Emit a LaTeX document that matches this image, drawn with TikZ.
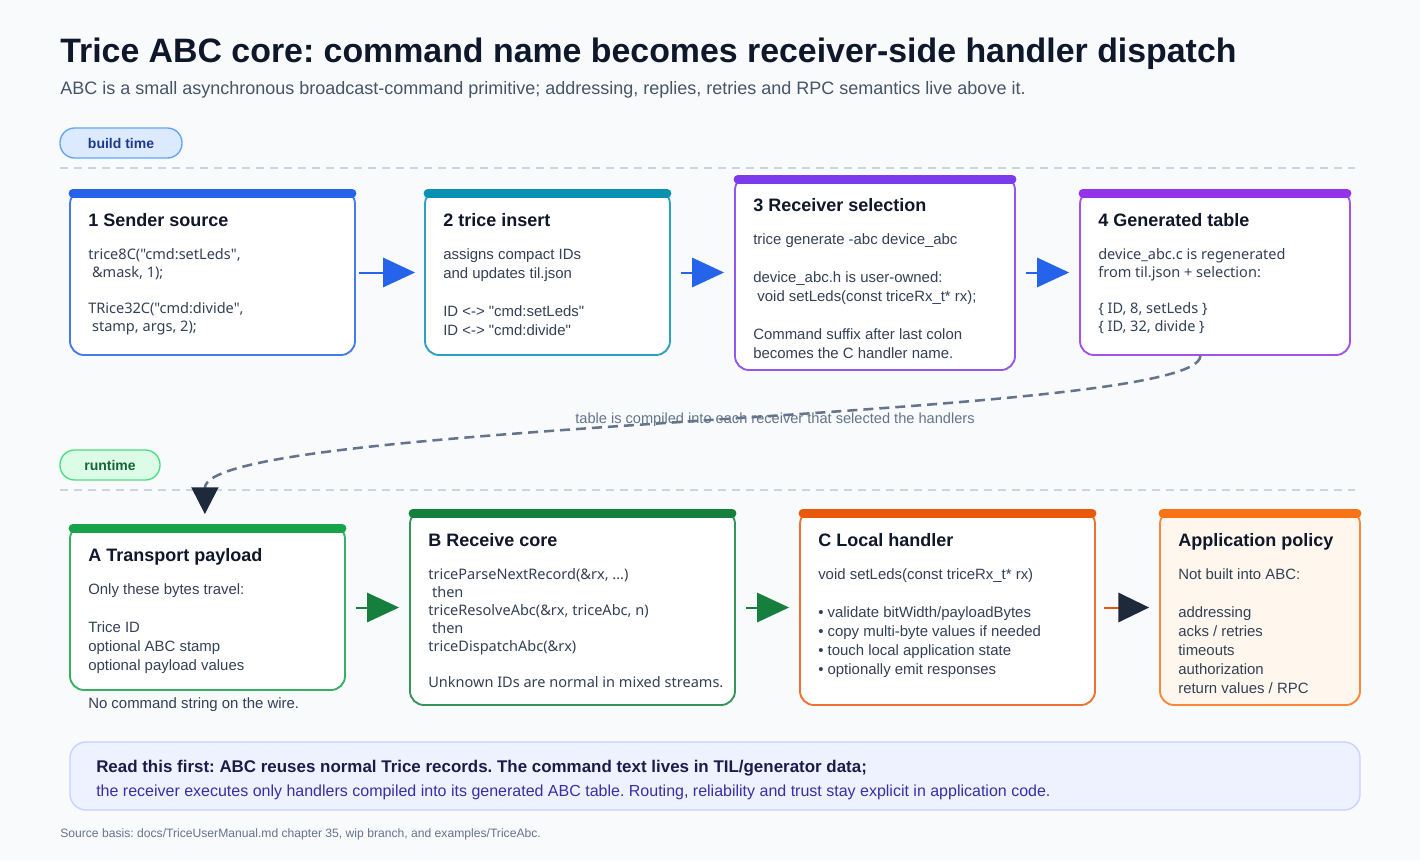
\documentclass[tikz,border=0pt]{standalone}
\usepackage{fontspec}
\setmainfont{Liberation Sans}[Ligatures=TeXOff]
\newfontfamily\codefont{Noto Sans}[Ligatures=TeXOff]
\usetikzlibrary{arrows.meta, positioning, fit}

\definecolor{cBg}{HTML}{F8FAFC}
\definecolor{cInk}{HTML}{0F172A}
\definecolor{cSlate}{HTML}{334155}
\definecolor{cSub}{HTML}{475569}
\definecolor{cGrey}{HTML}{64748B}
\definecolor{cDark}{HTML}{1E293B}
\definecolor{cSep}{HTML}{CBD5E1}
\definecolor{cBlue}{HTML}{2563EB}
\definecolor{cTeal}{HTML}{0891B2}
\definecolor{cViolet}{HTML}{7C3AED}
\definecolor{cPurple}{HTML}{9333EA}
\definecolor{cGreen}{HTML}{16A34A}
\definecolor{cForest}{HTML}{15803D}
\definecolor{cRust}{HTML}{EA580C}
\definecolor{cOrange}{HTML}{F97316}
\definecolor{cCream}{HTML}{FFF7ED}
\definecolor{cPillBlue}{HTML}{DBEAFE}
\definecolor{cPillBlueLine}{HTML}{60A5FA}
\definecolor{cPillBlueText}{HTML}{1E3A8A}
\definecolor{cPillGreen}{HTML}{DCFCE7}
\definecolor{cPillGreenLine}{HTML}{4ADE80}
\definecolor{cPillGreenText}{HTML}{166534}
\definecolor{cNote}{HTML}{EEF2FF}
\definecolor{cNoteLine}{HTML}{C7D2FE}
\definecolor{cNoteHead}{HTML}{1E1B4B}
\definecolor{cNoteText}{HTML}{3730A3}

\begin{document}
\frenchspacing
\begin{tikzpicture}[x=0.75pt, y=-0.75pt,
    every node/.style={inner sep=0pt},
    card/.style={draw=#1!85!white, line width=1.4pt, rounded corners=10.5pt, fill=white},
    topbar/.style={draw=#1, line width=6.75pt, line cap=round},
    ttl/.style={anchor=base west, text=cInk, font=\bfseries\fontsize{13.5}{16}\selectfont},
    txt/.style={anchor=north west, align=left, text=cSlate, font=\fontsize{11.2}{14.25}\selectfont},
    codetxt/.style={txt, font=\codefont\fontsize{10.9}{13.5}\selectfont},
    flow/.style={draw=#1, line width=1.5pt, -{Triangle[length=24pt, width=22pt]}},
    pill/.style={rounded corners=11pt, line width=1pt, minimum height=22.5pt,
        font=\bfseries\fontsize{10.5}{12}\selectfont},
    sep/.style={draw=cSep, line width=1.2pt, dash pattern=on 6pt off 4.5pt}]

    \fill[cBg] (0,0) rectangle (1420,860);

    % heading
    \node[anchor=base west, text=cInk, font=\bfseries\fontsize{25.4}{30}\selectfont] (title) at (60,62)
        {Trice ABC core: command name becomes receiver-side handler dispatch};
    \node[anchor=base west, text=cSub, font=\fontsize{13.5}{16}\selectfont] (subtitle) at (60,94)
        {ABC is a small asynchronous broadcast-command primitive; addressing, replies, retries and RPC semantics live above it.};

    % build time row
    \node[pill, fill=cPillBlue, draw=cPillBlueLine, text=cPillBlueText, minimum width=91.5pt] (build) at (121,143) {build time};
    \draw[sep] (60,168) -- (1355,168);

    \node[card=cBlue, fit={(70,190) (355,355)}] (b1) {};
    \node[card=cTeal, fit={(425,190) (670,355)}] (b2) {};
    \node[card=cViolet, fit={(735,176) (1015,370)}] (b3) {};
    \node[card=cPurple, fit={(1080,190) (1350,355)}] (b4) {};

    \node[ttl] (t1) at (88,226) {1 Sender source};
    \node[codetxt] (d1) at (88,248)
        {trice8C("cmd:setLeds",\\\ \&mask, 1);\\[13.5pt]TRice32C("cmd:divide",\\\ stamp, args, 2);};
    \node[ttl] (t2) at (443,226) {2 trice insert};
    \node[txt] (d2) at (443,248)
        {assigns compact IDs\\and updates til.json\\[14.25pt]ID <-> "cmd:setLeds"\\ID <-> "cmd:divide"};
    \node[ttl] (t3) at (753,211) {3 Receiver selection};
    \node[txt] (d3) at (753,233)
        {trice generate -abc device\_abc\\[14.25pt]device\_abc.h is user-owned:\\\ void setLeds(const triceRx\_t* rx);\\[14.25pt]Command suffix after last colon\\becomes the C handler name.};
    \node[ttl] (t4) at (1098,226) {4 Generated table};
    \node[codetxt] (d4) at (1098,248)
        {device\_abc.c is regenerated\\from til.json + selection:\\[13.5pt]\{ ID, 8, setLeds \}\\\{ ID, 32, divide \}};

    \draw[flow=cBlue, shorten <=2.25pt, shorten >=6.75pt] (b1.east) -- (b2.west);
    \draw[flow=cBlue, shorten <=7.5pt, shorten >=7.5pt] (b2.east) -- (b2.east -| b3.west);
    \draw[flow=cBlue, shorten <=7.5pt, shorten >=7.5pt] (b4.west -| b3.east) -- (b4.west);

    % runtime row
    \node[pill, fill=cPillGreen, draw=cPillGreenLine, text=cPillGreenText, minimum width=75pt] (run) at (110,465) {runtime};
    \draw[sep] (60,490) -- (1355,490);

    \node[card=cGreen, fit={(70,525) (345,690)}] (bA) {};
    \node[card=cForest, fit={(410,510) (735,705)}] (bB) {};
    \node[card=cRust, fit={(800,510) (1095,705)}] (bC) {};
    \node[card=cOrange, fill=cCream, fit={(1160,510) (1360,705)}] (bP) {};

    \foreach \b/\c in {b1/cBlue, b2/cTeal, b3/cViolet, b4/cPurple, bA/cGreen, bB/cForest, bC/cRust, bP/cOrange}
        \draw[topbar=\c] ([xshift=3pt, yshift=-3pt]\b.north west) -- ([xshift=-3pt, yshift=-3pt]\b.north east);

    \node[ttl] (tA) at (88,561) {A Transport payload};
    \node[txt] (dA) at (88,583)
        {Only these bytes travel:\\[14.25pt]Trice ID\\optional ABC stamp\\optional payload values};
    \node[txt, anchor=base west] (wire) at (88,708) {No command string on the wire.};
    \node[ttl] (tB) at (428,546) {B Receive core};
    \node[codetxt] (dB) at (428,568)
        {triceParseNextRecord(\&rx, ...)\\\ then\\triceResolveAbc(\&rx, triceAbc, n)\\\ then\\triceDispatchAbc(\&rx)\\[13.5pt]Unknown IDs are normal in mixed streams.};
    \node[ttl] (tC) at (818,546) {C Local handler};
    \node[txt] (dC) at (818,568)
        {void setLeds(const triceRx\_t* rx)\\[14.25pt]• validate bitWidth/payloadBytes\\• copy multi-byte values if needed\\• touch local application state\\• optionally emit responses};
    \node[ttl] (tP) at (1178,546) {Application policy};
    \node[txt] (dP) at (1178,568)
        {Not built into ABC:\\[14.25pt]addressing\\acks / retries\\timeouts\\authorization\\return values / RPC};

    \draw[flow=cForest, shorten <=7.5pt, shorten >=7.5pt] (bA.east) -- (bB.west);
    \draw[flow=cForest, shorten <=7.5pt, shorten >=7.5pt] (bB.east) -- (bC.west);
    \draw[draw=cRust, line width=1.5pt, -{Triangle[length=23pt, width=22pt, color=cDark]},
        shorten <=6pt, shorten >=7.5pt] (bC.east) -- (bP.west);

    % build time -> runtime
    \node[text=cGrey, font=\fontsize{10.95}{13}\selectfont] (compiled) at (775,420)
        {table is compiled into each receiver that selected the handlers};
    \draw[draw=cGrey, line width=1.9pt, dash pattern=on 7.5pt off 4.5pt,
        -{Triangle[length=20pt, width=20pt, color=cDark]}, shorten >=7.5pt]
        ([xshift=-11pt]b4.south) .. controls (1200,420) and (205,420) .. ([xshift=-2pt]bA.north);

    % note
    \node[fill=cNote, draw=cNoteLine, line width=1pt, rounded corners=12pt, fit={(70,742) (1360,810)}] (note) {};
    \node[anchor=base west, text=cNoteHead, font=\bfseries\fontsize{12.7}{15}\selectfont] (noteA) at (96,772)
        {Read this first: ABC reuses normal Trice records. The command text lives in TIL/generator data;};
    \node[anchor=base west, text=cNoteText, font=\fontsize{12}{14}\selectfont] (noteB) at (96,796)
        {the receiver executes only handlers compiled into its generated ABC table. Routing, reliability and trust stay explicit in application code.};

    \node[anchor=base west, text=cGrey, font=\fontsize{9.1}{11}\selectfont] (source) at (60,837)
        {Source basis: docs/TriceUserManual.md chapter 35, wip branch, and examples/TriceAbc.};
\end{tikzpicture}
\end{document}
